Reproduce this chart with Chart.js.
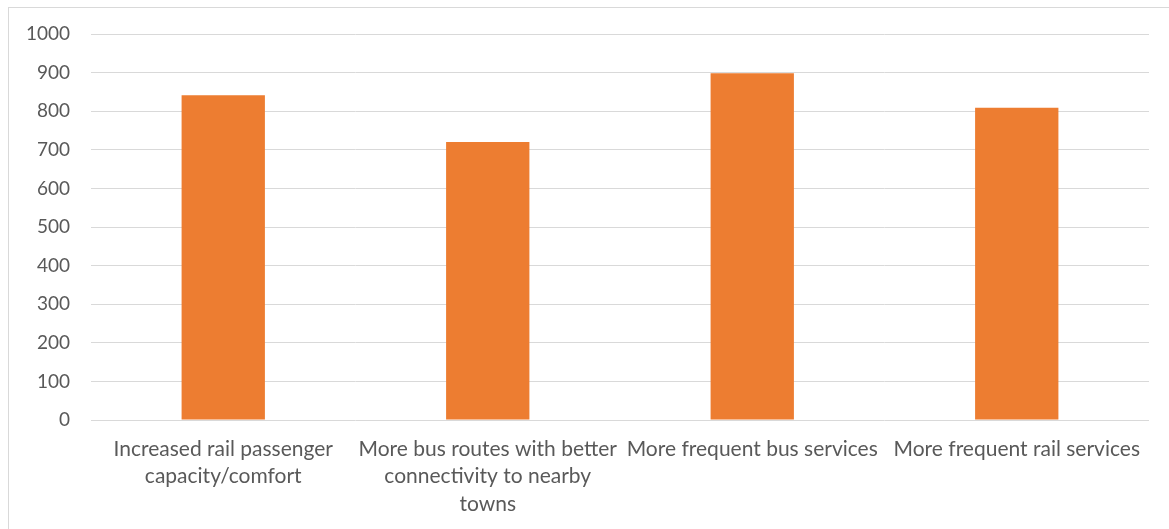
<!DOCTYPE html>
<html>
<head>
<meta charset="utf-8">
<script src="https://cdn.jsdelivr.net/npm/chart.js@4/dist/chart.umd.min.js"></script>
<style>
  html, body { margin: 0; padding: 0; background: #fff; }
  #wrap { position: relative; width: 1169px; height: 529px; overflow: hidden; }
  #frame { position: absolute; left: 8px; top: 7px; width: 1200px; height: 600px;
           border-left: 1px solid #d9d9d9; border-top: 1px solid #d9d9d9; }
  canvas { position: absolute; left: 0; top: 0; }
</style>
</head>
<body>
<div id="wrap">
  <div id="frame"></div>
  <canvas id="c" width="1169" height="529"></canvas>
</div>
<script>
const categories = [
  ["Increased rail passenger", "capacity/comfort"],
  ["More bus routes with better", "connectivity to nearby", "towns"],
  "More frequent bus services",
  "More frequent rail services"
];
const values = [841, 720, 898, 809];
const yTicks = [0, 100, 200, 300, 400, 500, 600, 700, 800, 900, 1000];

const textColor = '#595959';
const gridColor = '#d9d9d9';
const family = 'Lato, "Open Sans", sans-serif';

new Chart(document.getElementById('c'), {
  type: 'bar',
  data: {
    labels: categories,
    datasets: [{
      data: values,
      backgroundColor: '#ED7D31',
      borderWidth: 0,
      categoryPercentage: 1,
      barPercentage: 0.315
    }]
  },
  options: {
    responsive: false,
    animation: false,
    layout: { padding: { top: 34, right: 20, left: 0, bottom: 0 } },
    plugins: { legend: { display: false }, tooltip: { enabled: false } },
    scales: {
      x: {
        grid: { display: false, drawTicks: false },
        border: { display: false },
        ticks: { color: textColor, font: { family, size: 21, lineHeight: 1.31 },
                 maxRotation: 0, autoSkip: false, padding: 15 },
        afterFit: s => { s.height = 109; }
      },
      y: {
        min: 0, max: 1000,
        afterBuildTicks: s => { s.ticks = yTicks.map(v => ({ value: v })); },
        grid: { color: gridColor, lineWidth: 1, drawTicks: false },
        border: { display: false },
        ticks: { color: textColor, font: { family, size: 19 }, padding: 21,
                 callback: v => String(v) },
        afterFit: s => { s.width = 91; }
      }
    }
  }
});
</script>
</body>
</html>
